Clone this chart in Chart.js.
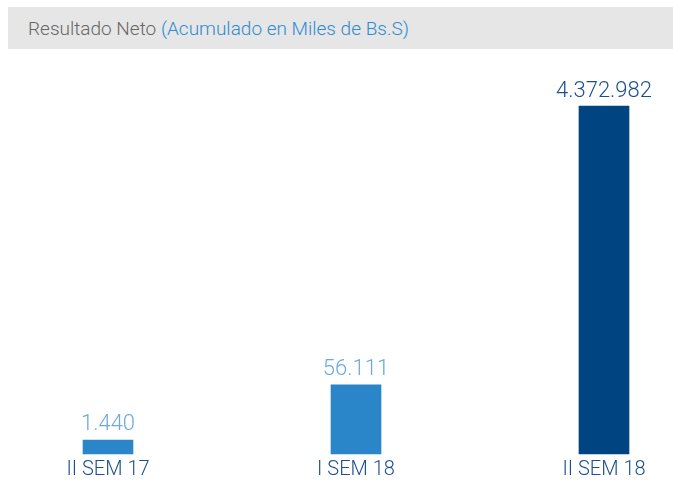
<!DOCTYPE html>
<html>
<head>
<meta charset="utf-8">
<script src="https://cdn.jsdelivr.net/npm/chart.js@4"></script>
<style>
  html, body { margin: 0; padding: 0; background: #fff; }
  #wrap { position: relative; width: 673px; height: 495px; }
  #title {
    position: absolute; left: 8px; top: 7px; width: 665px; height: 42px;
    background: #e6e6e6; font-family: Roboto, sans-serif; font-weight: 300;
    font-size: 19px; line-height: 44px; color: #666; padding-left: 20px; box-sizing: border-box;
  }
  #title span { color: #2f8bd1; }
  canvas { position: absolute; left: 0; top: 0; }
</style>
</head>
<body>
<div id="wrap">
  <canvas id="chart" width="673" height="495"></canvas>
  <div id="title">Resultado Neto <span>(Acumulado en Miles de Bs.S)</span></div>
</div>
<script>
// periods on the x axis
const periods = ['II SEM 17', 'I SEM 18', 'II SEM 18'];
// net result, thousands of Bs.S (printed above each bar)
const netResult = [1440, 56111, 4372982];
// bar heights as drawn in the source (the source is not to scale)
const barHeights = [14, 69, 347];
const barColors = ['#2a86c9', '#2a86c9', '#004481'];
const labelColors = ['#6fa9dc', '#6fa9dc', '#1d4f8c'];

const fmt = v => v.toString().replace(/\B(?=(\d{3})+(?!\d))/g, '.');

// draws value labels above bars
const valueLabels = {
  id: 'valueLabels',
  afterDatasetsDraw(chart) {
    const ctx = chart.ctx;
    const meta = chart.getDatasetMeta(0);
    ctx.save();
    ctx.font = '300 22px Roboto, sans-serif';
    ctx.textAlign = 'center';
    ctx.textBaseline = 'bottom';
    meta.data.forEach((bar, i) => {
      ctx.fillStyle = labelColors[i];
      ctx.fillText(fmt(netResult[i]), bar.x, bar.y - 4);
    });
    ctx.restore();
  }
};

new Chart(document.getElementById('chart').getContext('2d'), {
  type: 'bar',
  data: {
    labels: periods,
    datasets: [{
      data: barHeights,
      backgroundColor: barColors,
      barThickness: 50,
      clip: false,
    }]
  },
  options: {
    responsive: false,
    animation: false,
    layout: { padding: { left: 108, right: 69, top: 53, bottom: 17 } },
    plugins: { legend: { display: false }, tooltip: { enabled: false } },
    scales: {
      x: {
        offset: false,
        grid: { display: false },
        border: { display: false },
        ticks: {
          autoSkip: false,
          maxRotation: 0,
          color: '#1d4f8c',
          padding: -4,
          font: { family: 'Roboto', size: 20, weight: '300' }
        }
      },
      y: { display: false, min: 0, max: 400 }
    }
  },
  plugins: [valueLabels]
});
</script>
</body>
</html>
